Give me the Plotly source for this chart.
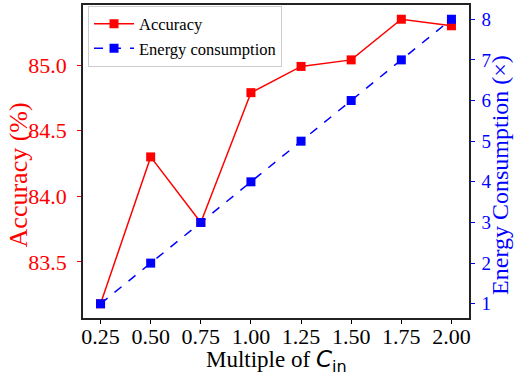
import plotly.graph_objects as go

multiples = [0.25, 0.50, 0.75, 1.00, 1.25, 1.50, 1.75, 2.00]
accuracy = [83.18, 84.30, 83.80, 84.79, 84.99, 85.04, 85.35, 85.30]
energy = [1, 2, 3, 4, 5, 6, 7, 8]

x_ticks = [0.25, 0.50, 0.75, 1.00, 1.25, 1.50, 1.75, 2.00]
acc_ticks = [83.5, 84.0, 84.5, 85.0]
energy_ticks = [1, 2, 3, 4, 5, 6, 7, 8]

FONT = "Liberation Serif, Times New Roman, serif"

fig = go.Figure()
fig.add_trace(go.Scatter(
    x=multiples, y=accuracy, name="Accuracy", mode="lines+markers",
    line=dict(color="#ff0000", width=1.5),
    marker=dict(symbol="square", size=9, color="#ff0000"),
    yaxis="y",
))
fig.add_trace(go.Scatter(
    x=multiples, y=energy, name="Energy consumption", mode="lines+markers",
    line=dict(color="#0000ff", width=1.5, dash="dash"),
    marker=dict(symbol="square", size=9, color="#0000ff"),
    yaxis="y2",
))

fig.update_layout(
    width=514, height=380,
    margin=dict(l=83, r=45, t=3, b=62),
    paper_bgcolor="white", plot_bgcolor="white",
    font=dict(family=FONT, color="black"),
    showlegend=True,
    legend=dict(
        x=0.013, y=0.998, xanchor="left", yanchor="top",
        bgcolor="rgba(255,255,255,0.8)", bordercolor="#cccccc", borderwidth=1,
        font=dict(family=FONT, size=16.5, color="black"),
        tracegroupgap=0, itemwidth=40,
    ),
    xaxis=dict(
        range=[0.1625, 2.0875],
        tickvals=x_ticks, tickformat=".2f",
        ticks="outside", ticklen=4, tickwidth=1, tickcolor="black",
        showline=True, linecolor="#222222", linewidth=1.5, mirror=True,
        showgrid=False, zeroline=False,
        ticklabelstandoff=-6,
        tickfont=dict(family=FONT, size=22, color="black"),
    ),
    yaxis=dict(
        range=[83.0715, 85.4585],
        tickvals=acc_ticks, tickformat=".1f",
        ticks="outside", ticklen=4, tickwidth=1, tickcolor="#ff0000",
        showline=True, linecolor="#222222", linewidth=1.5,
        showgrid=False, zeroline=False,
        ticklabelstandoff=6,
        tickfont=dict(family=FONT, size=22, color="#ff0000"),
    ),
    yaxis2=dict(
        range=[0.65, 8.35],
        tickvals=energy_ticks,
        overlaying="y", side="right",
        ticks="outside", ticklen=4, tickwidth=1, tickcolor="#0000ff",
        showline=True, linecolor="#222222", linewidth=1.5,
        showgrid=False, zeroline=False,
        ticklabelstandoff=3,
        tickfont=dict(family=FONT, size=19, color="#0000ff"),
    ),
    annotations=[
        dict(text="Multiple of <span style=\"font-family:DejaVu Sans\"><i>C</i><sub>in</sub></span>",
             xref="paper", yref="paper", x=0.5, y=-0.0857, xanchor="center", yanchor="top",
             showarrow=False, borderpad=0,
             font=dict(family=FONT, size=23, color="black")),
        dict(text="Accuracy (%)", textangle=-90, xref="paper", yref="paper",
             x=-0.168, y=0.456, xanchor="center", yanchor="middle", showarrow=False,
             font=dict(family=FONT, size=26, color="#ff0000")),
        dict(text="Energy Consumption (\u00d7)", textangle=-90, xref="paper", yref="paper",
             x=1.082, y=0.456, xanchor="center", yanchor="middle", showarrow=False,
             font=dict(family=FONT, size=24, color="#0000ff")),
    ],
)

fig.write_html("out.html")
